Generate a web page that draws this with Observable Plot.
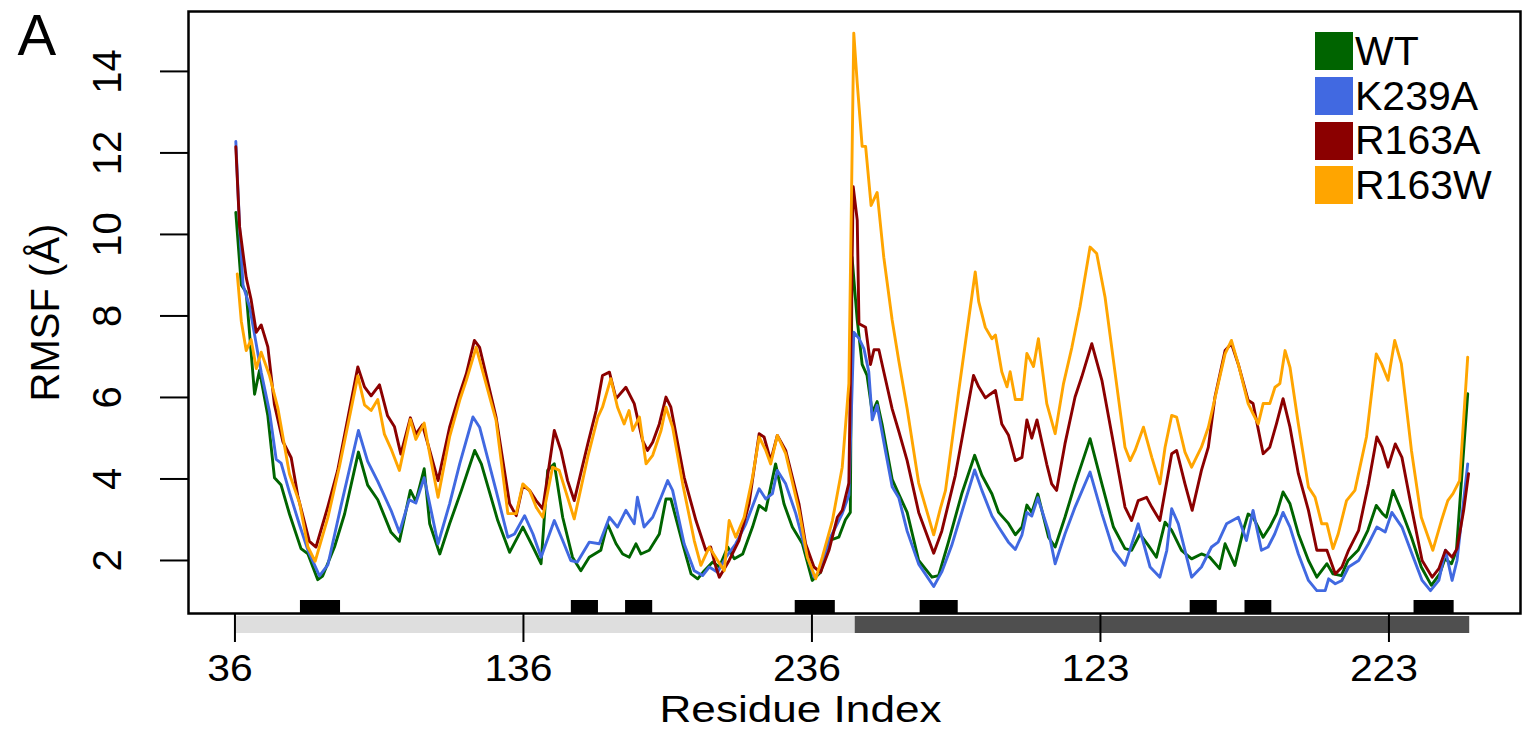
<!DOCTYPE html>
<html><head><meta charset="utf-8">
<script src="https://cdn.jsdelivr.net/npm/d3@7"></script>
<script src="https://cdn.jsdelivr.net/npm/@observablehq/plot@0.6"></script>
<style>
body{margin:0;background:#fff;font-family:"Liberation Sans",Arial,sans-serif;}
#wrap{position:relative;width:1522px;height:743px;}
#legend{position:absolute;left:1315px;top:29px;}
.row{display:flex;align-items:center;height:44.7px;}
.sw{width:38px;height:38px;}
.lab{font-size:41px;line-height:1;margin-left:2px;color:#000;}
</style></head><body><div id="wrap"></div><script>
// series names and colours
const seriesNames = ["WT", "K239A", "R163A", "R163W"];
const seriesColors = ["#006400", "#4169E1", "#8B0000", "#FFA500"];

// [sequential residue index (0 = chain A res 36), RMSF Å]
const WT = [[0.3,10.54],[2.2,8.76],[3.9,8.58],[6.8,6.08],[8.5,6.66],[11.4,5.55],[13.7,4.03],[16,3.85],[18.9,3.14],[22.9,2.29],[25.3,2.16],[28.7,1.53],[30.4,1.62],[34.5,2.33],[38,3.14],[42.8,4.66],[46,3.85],[49.5,3.49],[54.1,2.69],[57,2.47],[60.8,3.72],[62.7,3.45],[65.6,4.25],[67.5,2.90],[71,2.16],[74.4,2.90],[78.5,3.72],[83.1,4.70],[85.4,4.37],[91.1,2.98],[95.2,2.20],[99.8,2.82],[103.3,2.33],[106.1,1.92],[108.4,4.21],[110.7,4.37],[113.6,3.06],[117,2.08],[119.9,1.75],[122.8,2.08],[126.8,2.25],[129.1,2.90],[132.1,2.41],[134.4,2.16],[136.7,2.08],[139,2.41],[140.7,2.16],[143.6,2.25],[147.1,2.65],[149.4,3.51],[151.1,3.51],[155.2,2.41],[158.1,1.67],[160.4,1.55],[162.7,1.75],[165.6,1.96],[167.9,1.84],[170.8,2.33],[173.1,2.04],[176,2.16],[179.4,2.82],[181.7,3.35],[184,3.23],[187.4,4.37],[190.3,3.39],[193.2,2.82],[196.7,2.41],[200.1,1.51],[203,1.71],[205.9,2.49],[209.3,2.57],[211.6,3.0],[213.3,3.18],[213.9,9.44],[215.7,7.90],[217.4,6.81],[219.1,6.54],[220.9,5.63],[222.6,5.90],[224.3,5.35],[227.8,3.99],[230.1,3.63],[233,3.18],[237,2.0],[241.6,1.59],[243.9,1.63],[247.3,2.45],[251.9,3.63],[256.4,4.58],[258.9,4.09],[262.4,3.63],[264.7,3.18],[268.1,2.91],[270.5,2.63],[272.8,2.82],[274.5,3.36],[276.2,3.18],[278.3,3.63],[282,2.57],[284.3,2.33],[287.7,3.06],[291.2,3.88],[296.4,4.99],[300.5,3.88],[304.5,2.82],[308.5,2.29],[310.8,2.25],[313.7,2.65],[316.6,2.37],[319.4,2.08],[322.4,2.94],[324.7,2.74],[328.1,2.25],[331.6,2.04],[335,2.16],[337.9,2.08],[341.3,1.80],[343.2,2.41],[346.6,1.88],[349.5,2.74],[351.2,3.14],[352.9,3.06],[356.4,2.57],[358.7,2.82],[361,3.14],[363.3,3.68],[365.7,3.39],[368.6,2.65],[372.1,2.00],[375,1.59],[378.5,1.92],[380.6,1.67],[383.5,1.63],[385.8,2.00],[389.3,2.25],[392.7,2.74],[395.6,3.35],[397.9,3.14],[399.1,3.06],[401.4,3.72],[404.3,3.23],[407.8,2.57],[411.2,1.84],[414.7,1.39],[417.6,1.67],[419.4,2.04],[421.7,1.92],[423.4,2.25],[427.3,6.09]];

const K239A = [[0.3,12.28],[1.6,10.19],[2.8,8.76],[5.1,8.22],[9.1,6.62],[12,5.64],[14.3,4.48],[16,4.39],[18.9,3.67],[22.4,2.87],[25.3,2.25],[29.3,1.62],[32.2,1.89],[36.7,3.32],[42.8,5.19],[46,4.43],[49.5,3.94],[54.1,3.23],[57,2.69],[60.4,3.49],[62.7,3.41],[65.6,4.03],[67.5,3.39],[70.4,2.41],[74.4,3.39],[77.9,4.37],[82.5,5.52],[84.8,5.27],[90.5,3.72],[94.6,2.57],[96.9,2.65],[100.4,3.10],[103.3,2.65],[106.1,2.08],[110.7,2.98],[113.6,2.49],[116.4,2.00],[118.7,1.96],[122.8,2.45],[126.3,2.41],[129.8,3.06],[132.6,2.82],[135.5,3.23],[138.4,2.90],[139.5,3.55],[141.8,2.82],[144.8,3.06],[147.7,3.55],[150,3.96],[151.7,3.72],[155.7,2.41],[159.2,1.75],[162.1,1.63],[164.4,1.84],[167.3,1.71],[170.2,2.08],[173.6,2.41],[177.1,2.90],[181.7,3.76],[184,3.51],[186.3,3.64],[188,4.21],[190.9,3.88],[194.4,3.15],[197.8,2.25],[200.7,1.59],[203,1.75],[205.9,2.49],[210.5,3.15],[212.8,3.6],[214.5,7.6],[216.3,7.45],[218,7.2],[219.7,6.63],[220.9,5.45],[222.6,5.81],[225.4,4.72],[227.8,3.81],[230.1,3.54],[233,2.72],[237,1.91],[242.2,1.36],[245,1.72],[248.4,2.36],[256.4,4.22],[258.9,3.72],[262.4,3.09],[264.7,2.82],[268.1,2.45],[270.5,2.27],[272.8,2.63],[274.5,3.18],[276.2,3.09],[278.3,3.54],[282,2.72],[284.3,1.92],[287.7,2.65],[291.2,3.31],[296.4,4.17],[300.5,3.15],[304.5,2.25],[308.5,1.88],[313.1,2.9],[317.2,1.84],[320.6,1.59],[323,2.25],[324.7,3.27],[327,2.9],[331.6,1.59],[335,1.84],[338.5,2.33],[340.8,2.45],[343.7,2.9],[347.8,3.06],[350.6,2.49],[352.9,3.23],[355.8,2.25],[358.1,2.33],[360.4,2.65],[363.3,3.18],[365.7,2.82],[368.6,2.16],[372.1,1.51],[375,1.26],[377.9,1.26],[379.1,1.55],[381.4,1.43],[383.7,1.51],[386,1.84],[389.5,2.00],[392.9,2.41],[395.8,2.82],[398.7,2.70],[401,3.18],[404.5,2.82],[408,2.16],[411.5,1.51],[414.4,1.26],[417.3,1.51],[419.6,2.25],[421.9,1.51],[423.6,2.00],[427.3,4.37]];

const R163A = [[0.3,12.15],[1.6,10.19],[3.9,8.94],[5.6,8.40],[7.4,7.60],[9.1,7.78],[11.4,7.24],[13.7,5.82],[16.6,4.92],[19.5,4.52],[21.8,3.58],[25.8,2.47],[28.1,2.33],[32.2,3.32],[35.6,4.21],[42.6,6.75],[44.9,6.26],[47.2,6.04],[50.1,6.31],[52.9,5.55],[55.3,5.28],[57.5,4.61],[60.8,5.50],[62.7,5.10],[65,5.33],[67.5,4.70],[70.4,3.96],[74.4,5.27],[77.9,6.09],[80.2,6.58],[83,7.40],[84.8,7.23],[90.5,5.52],[95.2,3.39],[97.5,3.10],[99.8,3.84],[102.1,3.72],[104.4,3.47],[106.7,3.27],[110.7,5.19],[113,4.70],[115.3,3.96],[117.6,3.47],[122.3,4.86],[125.2,5.68],[127.4,6.54],[129.8,6.62],[132.1,5.97],[135.5,6.25],[138.4,5.85],[141.3,4.94],[143,4.70],[144.8,4.90],[147.1,5.35],[149.4,6.01],[151.1,5.76],[155.7,4.04],[159.8,2.98],[163.2,2.25],[164.9,2.33],[166.7,1.84],[167.9,1.59],[171.3,2.00],[174.7,2.49],[178.2,3.39],[181.7,5.11],[183.4,5.03],[185.7,4.45],[188,5.07],[190.9,4.70],[195.5,3.39],[197.8,2.41],[200.7,1.84],[203,1.71],[205.9,2.25],[208.8,3.06],[210.5,3.23],[212.8,3.90],[214.3,11.17],[215.7,10.35],[216.3,7.81],[218.6,7.72],[220.3,6.81],[221.5,7.17],[223.2,7.17],[224.9,6.63],[227.8,5.72],[230.1,5.17],[233,4.45],[237,3.18],[242.2,2.18],[245,2.72],[249.7,4.09],[256,6.54],[257.8,6.26],[260.1,5.99],[261.8,6.08],[263.6,6.17],[265.8,5.35],[268.1,5.08],[270.5,4.45],[272.8,4.53],[274.5,5.45],[276.2,5.0],[278,5.45],[281.4,4.36],[283.1,3.88],[284.8,3.72],[287.7,4.86],[291.2,6.01],[293.5,6.50],[297,7.32],[300.5,6.42],[303.9,5.11],[308.5,3.31],[310.8,2.98],[313.1,3.47],[316,3.55],[317.8,3.31],[320.6,2.98],[324.7,4.62],[326.4,4.70],[329.3,3.88],[331.8,3.23],[335,4.21],[337.4,4.78],[339.7,6.01],[343.2,7.15],[345.4,7.32],[347.8,6.81],[351.2,5.93],[352.9,5.85],[356.4,4.62],[358.7,4.78],[361,5.35],[363.3,5.97],[365.7,5.27],[368.6,4.13],[372.1,3.23],[375,2.25],[378.5,2.25],[381.4,1.67],[383.7,1.84],[386,2.25],[389.5,2.74],[392.9,3.88],[395.8,5.03],[397.6,4.78],[399.7,4.29],[402.2,4.86],[404.5,4.53],[408,3.23],[411.5,2.00],[415,1.59],[417.3,1.80],[419.6,2.25],[421.9,2.08],[423.6,2.29],[425.9,3.23],[427.6,4.13]];

const R163W = [[0.8,9.03],[2.2,7.87],[3.9,7.15],[5.6,7.42],[7.4,6.71],[9.1,7.11],[12,6.53],[14.9,5.73],[18.9,4.12],[22.4,3.41],[25.3,2.33],[27.8,1.98],[32.2,3.05],[36.2,4.30],[42.6,6.53],[44.9,5.82],[47.2,5.68],[49.5,5.95],[51.8,5.10],[54.1,4.74],[57,4.21],[60.8,5.46],[62.7,4.97],[65.6,5.37],[67.5,4.62],[70.4,3.55],[74.4,5.03],[77.9,5.93],[80.2,6.42],[83.6,7.23],[90.5,5.44],[94.6,3.15],[97.5,3.15],[99.8,3.88],[102.1,3.72],[104.4,3.31],[106.7,3.06],[110.1,4.29],[112.4,4.21],[115.3,3.55],[117.6,3.02],[122.3,4.54],[125.8,5.52],[127.4,5.76],[130.3,6.46],[132.6,5.76],[134.9,5.35],[136.6,5.68],[137.9,5.19],[140.2,5.52],[142.5,4.37],[144.8,4.58],[147.7,5.19],[149.4,5.76],[151.7,5.27],[155.2,3.88],[159.2,2.49],[161.5,1.88],[164.4,2.33],[167.3,2.00],[169.6,1.75],[171.3,2.98],[173.6,2.57],[176.5,3.06],[179.4,4.04],[181.7,5.03],[184,4.70],[185.7,4.37],[188,5.07],[190.9,4.62],[195.5,3.23],[198.4,2.08],[201.3,1.55],[203.6,2.08],[207.1,2.98],[210.5,4.29],[212.8,6.34],[214.5,14.94],[215.7,13.71],[217.4,12.16],[218.6,12.16],[220.5,10.71],[222.6,11.03],[224.9,9.44],[227.8,7.90],[230.1,6.90],[233,5.72],[237,3.90],[242.2,2.63],[244.5,3.27],[246.3,3.72],[250.9,6.17],[256.6,9.08],[257.8,8.35],[260.1,7.72],[262.4,7.44],[263.6,7.53],[265.8,6.63],[267.6,6.26],[268.7,6.63],[270.5,5.95],[272.8,5.95],[274.5,7.08],[276.8,6.76],[278.5,7.44],[281.4,5.85],[284.3,5.11],[287.2,6.34],[290.1,7.23],[292.9,8.22],[296.4,9.69],[298.7,9.53],[301.6,8.46],[304.5,6.91],[308.5,4.78],[310.3,4.45],[312,4.7],[314.9,5.27],[317.8,4.53],[320.6,3.88],[322.4,4.78],[324.7,5.56],[326.4,5.52],[329.3,4.66],[331.6,4.29],[335,4.78],[337.4,5.27],[340.3,6.17],[343.2,7.07],[345.4,7.40],[347.8,6.81],[351.2,5.85],[352.9,5.6],[354.7,5.35],[356.4,5.85],[358.7,5.85],[360.5,6.25],[362.2,6.34],[364,7.15],[365.7,6.74],[368.6,5.35],[372.1,3.80],[374.4,3.55],[376.7,2.90],[378.5,2.9],[380.6,2.29],[382.4,2.65],[385.3,3.47],[388.2,3.72],[392.2,5.03],[395.6,7.07],[397.4,6.83],[399.7,6.42],[402,7.40],[404.3,6.83],[407.8,4.70],[411.2,3.06],[415.2,2.25],[418.2,2.98],[420.4,3.47],[422.2,3.64],[424.5,3.96],[427.3,6.99]];

// x axis ticks (sequential index) and their residue labels
const xTickPositions = [0, 100, 200, 300, 400];
const xTickLabels = ["36", "136", "236", "123", "223"];
const yTicks = [2, 4, 6, 8, 10, 12, 14];

// chain spans (sequential index): chain A, chain B
const chainStarts = [0, 215];
const chainEnds = [215, 428];
// black annotation boxes (sequential index)
const boxStarts = [22.7, 116.6, 135.4, 194.2, 237.5, 331.1, 350.1, 408.7];
const boxEnds = [36.6, 126.0, 144.8, 208.1, 250.7, 340.5, 359.4, 422.6];

const seriesData = [WT, K239A, R163A, R163W];
const table = [];
seriesData.forEach((arr, k) => arr.forEach(([t, v]) => table.push({series: seriesNames[k], t, v})));
const chains = chainStarts.map((s, i) => ({start: s, end: chainEnds[i]}));
const boxes = boxStarts.map((s, i) => ({start: s, end: boxEnds[i]}));

const font = "Liberation Sans, Arial, sans-serif";
const chart = Plot.plot({
  width: 1522, height: 743,
  marginLeft: 188, marginRight: 2, marginTop: 11, marginBottom: 130,
  x: {domain: [-16.1, 445.6]},
  y: {domain: [0.699, 15.47]},
  color: {domain: seriesNames, range: seriesColors},
  style: {fontFamily: font, background: "white", color: "black", overflow: "visible"},
  marks: [
    Plot.rect([chains[0]], {x1: "start", x2: "end", fill: "#dedede", insetTop: 605, insetBottom: -20}),
    Plot.rect([chains[1]], {x1: "start", x2: "end", fill: "#4f4f4f", insetTop: 605, insetBottom: -20}),
    Plot.rect(boxes, {x1: "start", x2: "end", fill: "black", insetTop: 589, insetBottom: 0}),
    Plot.line(table, {x: "t", y: "v", z: "series", stroke: "series", strokeWidth: 2.9, strokeLinejoin: "round"}),
    Plot.frame({stroke: "black", strokeWidth: 2.5}),
    Plot.axisX({ticks: xTickPositions, tickSize: 29, tickFormat: () => "", label: null, strokeWidth: 2}),
    Plot.axisY({ticks: yTicks, tickSize: 28, tickFormat: () => "", label: null, strokeWidth: 2}),
    Plot.text(xTickPositions, {x: d => d, text: (d, i) => xTickLabels[i], frameAnchor: "bottom", dy: 67, dx: -5, lineAnchor: "bottom", fontSize: 36, fill: "black", className: "xlab"}),
    Plot.text(yTicks, {y: d => d, text: d => String(d), frameAnchor: "left", dx: -68, rotate: -90, lineAnchor: "bottom", textAnchor: "middle", fontSize: 40, fill: "black"}),
    Plot.text(["Residue Index"], {frameAnchor: "bottom", dx: -54, dy: 108, lineAnchor: "bottom", fontSize: 36, fill: "black", className: "xtitle"}),
    Plot.text(["RMSF (Å)"], {frameAnchor: "left", dx: -130, rotate: -90, lineAnchor: "bottom", textAnchor: "middle", fontSize: 40, fill: "black"}),
    Plot.text(["A"], {frameAnchor: "top-left", dx: -171, dy: 2, textAnchor: "start", lineAnchor: "top", fontSize: 58, fill: "black"})
  ]
});
// the reference's horizontal text is slightly wide: stretch glyphs to match
d3.select(chart).selectAll("g.xlab text").each(function() {
  const n = this.textContent.length;
  this.setAttribute("textLength", n * 22.7);
  this.setAttribute("lengthAdjust", "spacingAndGlyphs");
});
d3.select(chart).selectAll("g.xtitle text").attr("textLength", 282).attr("lengthAdjust", "spacingAndGlyphs");

const wrap = document.getElementById("wrap");
wrap.appendChild(chart);
chart.style.position = "absolute"; chart.style.left = "0"; chart.style.top = "0";

// legend
const legend = document.createElement("div");
legend.id = "legend";
seriesNames.forEach((n, i) => {
  const row = document.createElement("div"); row.className = "row";
  const sw = document.createElement("div"); sw.className = "sw"; sw.style.background = seriesColors[i];
  const lab = document.createElement("span"); lab.className = "lab"; lab.textContent = n;
  row.appendChild(sw); row.appendChild(lab); legend.appendChild(row);
});
wrap.appendChild(legend);
</script></body></html>
